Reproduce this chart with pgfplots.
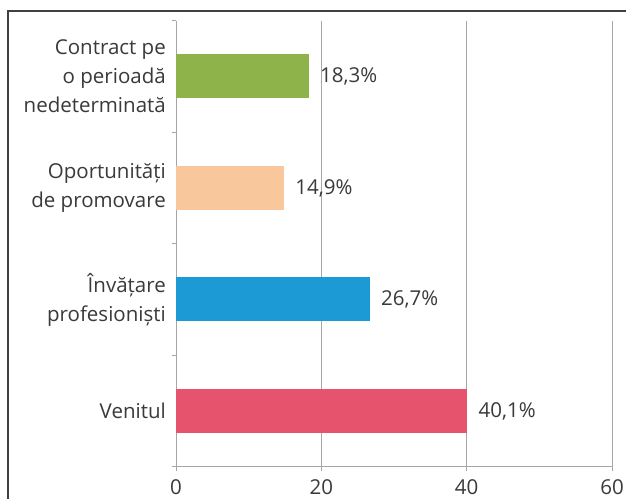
\documentclass[border=0pt]{standalone}
\usepackage{fontspec}
\setmainfont{Open Sans}
\usepackage{pgfplots}
\pgfplotsset{compat=1.18}

\definecolor{txt}{HTML}{3A3A3A}
\definecolor{gridc}{HTML}{A6A6A6}
\definecolor{cgreen}{HTML}{8DB34A}
\definecolor{cpeach}{HTML}{F9C79C}
\definecolor{cblue}{HTML}{1C9AD6}
\definecolor{cred}{HTML}{E5536D}

\begin{document}
\begin{tikzpicture}
\clip (0,0) rectangle (626bp,499bp);
\useasboundingbox (0,0) rectangle (626bp,499bp);
\fill[white] (0,0) rectangle (626bp,499bp);
\draw[black!75, line width=1.2bp] (8bp,-20bp) rectangle (660bp,488bp);
\begin{axis}[
    at={(176bp,32.3bp)}, anchor=south west,
    scale only axis,
    width=436bp, height=446bp,
    xbar, bar width=44bp, bar shift=0pt,
    xmin=0, xmax=60, ymin=0.5, ymax=4.5,
    xtick={0,20,40,60},
    ytick={1,2,3,4},
    yticklabels={Venitul, {Învățare\\profesioniști}, {Oportunități\\de promovare}, {Contract pe\\o perioadă\\nedeterminată}},
    minor ytick={0.5,1.5,2.5,3.5,4.5},
    axis x line*=bottom, axis y line*=left,
    axis line style={gridc, line width=0.9bp},
    xmajorgrids, grid style={gridc, line width=0.9bp},
    tick align=outside,
    major tick length=4bp, minor tick length=4bp,
    every tick/.style={gridc, line width=0.9bp},
    every major y tick/.append style={draw=none},
    every minor y tick/.append style={gridc, line width=0.9bp},
    /pgf/number format/assume math mode=true,
    tick label style={font=\fontsize{20.5bp}{29bp}\selectfont, text=txt},
    yticklabel style={align=right, inner sep=0pt, xshift=-6bp},
    xticklabel style={inner sep=0pt, yshift=-9bp},
    nodes near coords={\pgfmathprintnumber[use comma, fixed, fixed zerofill, precision=1]{\pgfplotspointmeta}\%},
    nodes near coords style={anchor=west, inner sep=0pt, xshift=11bp, text=txt,
        font=\fontsize{20.5bp}{29bp}\selectfont},
    point meta=x,
]
\addplot[fill=cred, draw=none] coordinates {(40.1,1)};
\addplot[fill=cblue, draw=none] coordinates {(26.7,2)};
\addplot[fill=cpeach, draw=none] coordinates {(14.9,3)};
\addplot[fill=cgreen, draw=none] coordinates {(18.3,4)};
\end{axis}
\end{tikzpicture}
\end{document}
